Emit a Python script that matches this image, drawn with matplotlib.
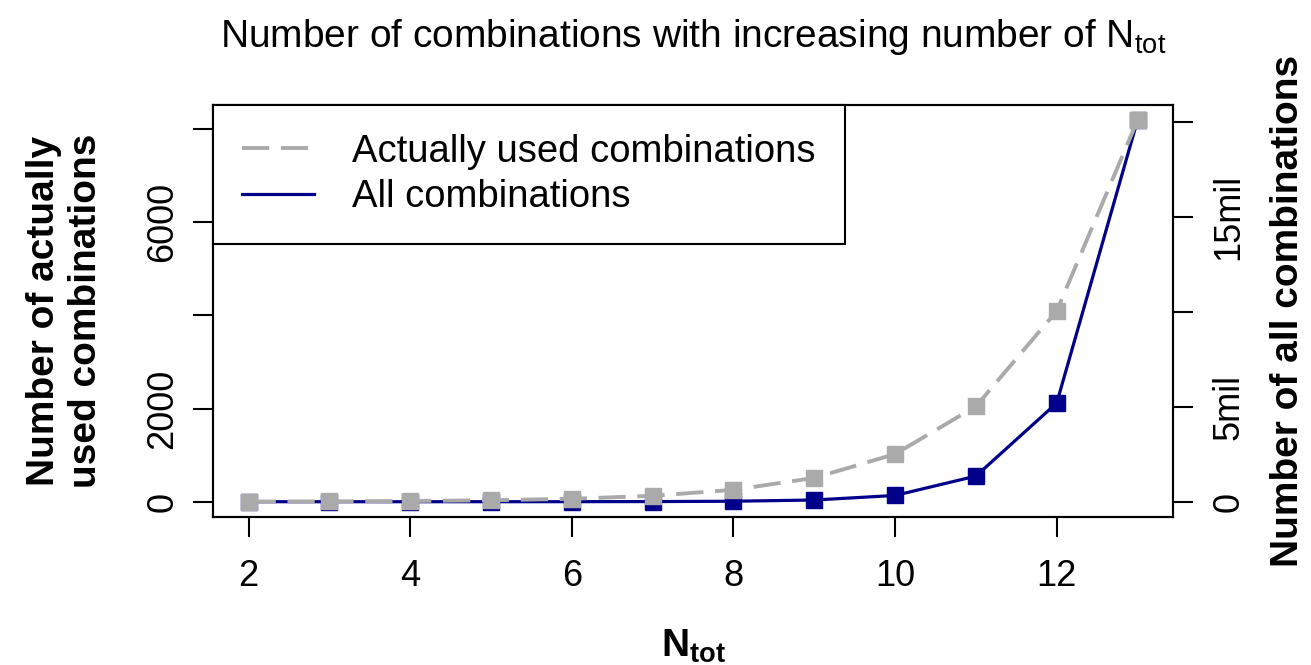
import numpy as np
import matplotlib
matplotlib.use("Agg")
import matplotlib.pyplot as plt

plt.rcParams['font.family'] = ['Liberation Sans', 'DejaVu Sans']
plt.rcParams['mathtext.fontset'] = 'custom'
plt.rcParams['mathtext.rm'] = 'Liberation Sans'
plt.rcParams['mathtext.bf'] = 'Liberation Sans:bold'

# data
n_tot = [2, 3, 4, 5, 6, 7, 8, 9, 10, 11, 12, 13]
used_comb = [3, 7, 15, 31, 63, 127, 255, 511, 1023, 2047, 4095, 8191]
all_comb = [2, 12, 60, 300, 2000, 7000, 25000, 90000, 330000, 1350000, 5200000, 20100000]

left_ticks = [0, 2000, 4000, 6000, 8000]
left_labels = ['0', '2000', '', '6000', '']
right_ticks = [0, 5e6, 1e7, 1.5e7, 2e7]
right_labels = ['0', '5mil', '', '15mil', '']
x_ticks = [2, 4, 6, 8, 10, 12]

gray = '#aaaaaa'
blue = '#00008b'

fig = plt.figure(figsize=(13.11, 6.65), dpi=100)
ax = fig.add_axes([0.1625, 0.2226, 0.7323, 0.6195])
ax2 = ax.twinx()
ax.set_zorder(ax2.get_zorder() + 1)
ax.patch.set_visible(False)

l2, = ax2.plot(n_tot, all_comb, color=blue, lw=2.3, marker='s', ms=12,
               label='All combinations')
l1, = ax.plot(n_tot, used_comb, color=gray, lw=2.8, marker='s', ms=12,
              dashes=(7, 3), label='Actually used combinations')


def r_lim(vals):
    # R style: 4% padding on each side
    lo, hi = min(min(vals), 0), max(vals)
    pad = (hi - lo) * 0.04
    return lo - pad, hi + pad


ax.set_xlim(2 - 11 * 0.04, 13 + 11 * 0.04)
ax.set_ylim(*r_lim(used_comb))
ax2.set_ylim(*r_lim(all_comb))

ax.set_xticks(x_ticks)
ax.set_yticks(left_ticks)
ax.set_yticklabels(left_labels, rotation=90, va='center')
ax2.set_yticks(right_ticks)
ax2.set_yticklabels(right_labels, rotation=90, va='center')

for a in (ax, ax2):
    a.tick_params(length=14.4, width=1.5, labelsize=26, direction='out')
    for s in a.spines.values():
        s.set_linewidth(1.5)
ax.tick_params(axis='x', pad=16)
ax.tick_params(axis='y', pad=9)
ax2.tick_params(axis='y', pad=13)

ax.set_title(r'Number of combinations with increasing number of N$_{\mathrm{tot}}$',
             fontsize=28, pad=42)
ax.set_xlabel(r'$\mathbf{N_{tot}}$', fontsize=28, labelpad=24)
ax.set_ylabel('Number of actually\nused combinations', fontsize=28,
              fontweight='bold', labelpad=30, linespacing=1.2)
ax2.set_ylabel('Number of all combinations', fontsize=28, fontweight='bold',
               labelpad=17)

leg = ax.legend(handles=[l1, l2], loc='upper left', bbox_to_anchor=(0, 1),
                borderaxespad=0, fontsize=27.5, fancybox=False, framealpha=1,
                edgecolor='black', handlelength=1.9, handletextpad=1.0,
                borderpad=0.75, labelspacing=0.25)
leg.get_frame().set_linewidth(1.5)
for h in leg.legend_handles:
    h.set_marker('')

fig.savefig('out.png', dpi=100)
